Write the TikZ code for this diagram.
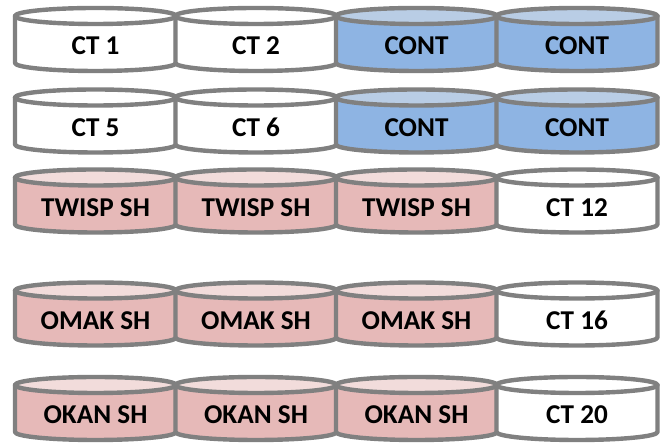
\documentclass[tikz,border=0pt]{standalone}
\usepackage{fontspec}
\setmainfont{Carlito}
\definecolor{rimgray}{HTML}{808080}
\definecolor{bluebody}{HTML}{8EB4E3}
\definecolor{bluelid}{HTML}{B9CDE5}
\definecolor{pinkbody}{HTML}{E6B9B8}
\definecolor{pinklid}{HTML}{F2DCDB}
\tikzset{
  tankline/.style={draw=rimgray, line width=2.2pt},
  tanklabel/.style={font=\fontsize{13.6}{16}\selectfont\bfseries, inner sep=0pt},
}
% #1 x, #2 y, #3 body colour, #4 lid colour, #5 name, #6 label
\newcommand{\tank}[6]{%
  \fill[#3] (#1-80.5,#2+23.5) -- (#1-80.5,#2-23.5)
    arc[start angle=180, end angle=360, x radius=80.5, y radius=8] -- (#1+80.5,#2+23.5) -- cycle;
  \fill[#4] (#1,#2+23.5) ellipse[x radius=80.5, y radius=8];
  \draw[tankline] (#1-80.5,#2+23.5) -- (#1-80.5,#2-23.5)
    arc[start angle=180, end angle=360, x radius=80.5, y radius=8] -- (#1+80.5,#2+23.5);
  \draw[tankline] (#1,#2+23.5) ellipse[x radius=80.5, y radius=8];
  \node[tanklabel] (#5) at (#1,#2-6.5) {#6};
}
\begin{document}
\begin{tikzpicture}[x=0.5pt, y=0.5pt, line join=round, line cap=round]
\useasboundingbox (0,0) rectangle (663,448);

% row 1
\tank{95.5}{408.5}{white}{white}{ct1}{CT 1}
\tank{256}{408.5}{white}{white}{ct2}{CT 2}
\tank{416.5}{408.5}{bluebody}{bluelid}{conta}{CONT}
\tank{577}{408.5}{bluebody}{bluelid}{contb}{CONT}

% row 2
\tank{95.5}{327}{white}{white}{ct5}{CT 5}
\tank{256}{327}{white}{white}{ct6}{CT 6}
\tank{416.5}{327}{bluebody}{bluelid}{contc}{CONT}
\tank{577}{327}{bluebody}{bluelid}{contd}{CONT}

% row 3
\tank{95.5}{247}{pinkbody}{pinklid}{twispa}{TWISP SH}
\tank{256}{247}{pinkbody}{pinklid}{twispb}{TWISP SH}
\tank{416.5}{247}{pinkbody}{pinklid}{twispc}{TWISP SH}
\tank{577}{247}{white}{white}{ct12}{CT 12}

% row 4
\tank{95.5}{134}{pinkbody}{pinklid}{omaka}{OMAK SH}
\tank{256}{134}{pinkbody}{pinklid}{omakb}{OMAK SH}
\tank{416.5}{134}{pinkbody}{pinklid}{omakc}{OMAK SH}
\tank{577}{134}{white}{white}{ct16}{CT 16}

% row 5
\tank{95.5}{39.5}{pinkbody}{pinklid}{okana}{OKAN SH}
\tank{256}{39.5}{pinkbody}{pinklid}{okanb}{OKAN SH}
\tank{416.5}{39.5}{pinkbody}{pinklid}{okanc}{OKAN SH}
\tank{577}{39.5}{white}{white}{ct20}{CT 20}
\end{tikzpicture}
\end{document}
